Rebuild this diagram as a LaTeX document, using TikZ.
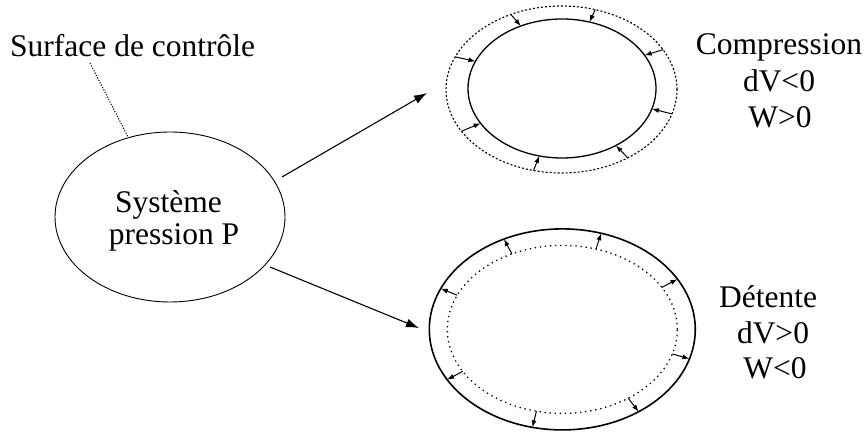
\documentclass[tikz,border=0pt]{standalone}
\usepackage{fontspec}
\setmainfont{Liberation Serif}
\usetikzlibrary{shapes.geometric,arrows.meta,calc}
\begin{document}
\begin{tikzpicture}[x=1pt,y=1pt,
  lbl/.style={anchor=base,inner sep=0pt,font=\fontsize{31.5}{36}\selectfont},
  ell/.style={ellipse,inner sep=0pt,draw},
  bigarrow/.style={line width=1.1pt,-{Latex[length=13pt,width=9pt]}},
  smallarrow/.style={line width=1pt,-{Latex[length=7pt,width=5pt]}},
  leader/.style={line width=1pt,dash pattern=on 1.2pt off 1.5pt},
  dashell/.style={line width=1.1pt,dash pattern=on 2pt off 2pt},
  dotell/.style={line width=1.3pt,dash pattern=on 1.3pt off 3.8pt}]
\useasboundingbox (0,0) rectangle (864,434);
% left system
\node[ell,line width=0.9pt,minimum width=230,minimum height=170] (sys) at (170,217) {};
\node[lbl] (sys1) at (168.5,221) {Système};
\node[lbl] (sys2) at (174,189) {pression P};
\node[lbl,anchor=base west] (surf) at (10,377) {Surface de contrôle};
\coordinate (ls) at (90,371);
\coordinate (le) at (128,297);
\draw[leader] (ls) -- (le);
% compression
\coordinate (cu) at (561.5,344.5);
\coordinate (cui) at (562,345.5);
\node[ell,draw=none,minimum width=231,minimum height=167] (comp) at (cu) {};
\draw[dashell] (cu) ellipse [x radius=115.5pt,y radius=83.5pt];
\draw[line width=1.3pt] (cui) ellipse [x radius=94pt,y radius=69.5pt];
\foreach \a in {116,73,28.5,157,-17,210,-55,-104}
  \draw[smallarrow] ($(cu)+(\a:115.5pt and 83.5pt)$) -- ($(cui)+(\a:94pt and 69.5pt)$);
\node[lbl] (c1) at (779,379) {Compression};
\node[lbl] (c2) at (779,342.5) {dV<0};
\node[lbl] (c3) at (780,306) {W>0};
% detente
\coordinate (cl) at (562.3,104.6);
\node[ell,draw=none,minimum width=266,minimum height=201] (det) at (cl) {};
\draw[dotell] (cl) ellipse [x radius=115pt,y radius=84pt];
\draw[line width=1.6pt] (cl) ellipse [x radius=133pt,y radius=100.5pt];
\foreach \a in {116,73,30,156,-17,210,-55,-103}
  \draw[smallarrow] ($(cl)+(\a:115pt and 84pt)$) -- ($(cl)+(\a:133pt and 100.5pt)$);
\node[lbl] (d1) at (768,127) {Détente};
\node[lbl] (d2) at (773,91) {dV>0};
\node[lbl] (d3) at (775,56) {W<0};
% main arrows
\coordinate (a1s) at (282,257);
\coordinate (a1e) at (427,341);
\coordinate (a2s) at (270,167);
\coordinate (a2e) at (419,106);
\draw[bigarrow] (a1s) -- (a1e);
\draw[bigarrow] (a2s) -- (a2e);
\end{tikzpicture}
\end{document}
